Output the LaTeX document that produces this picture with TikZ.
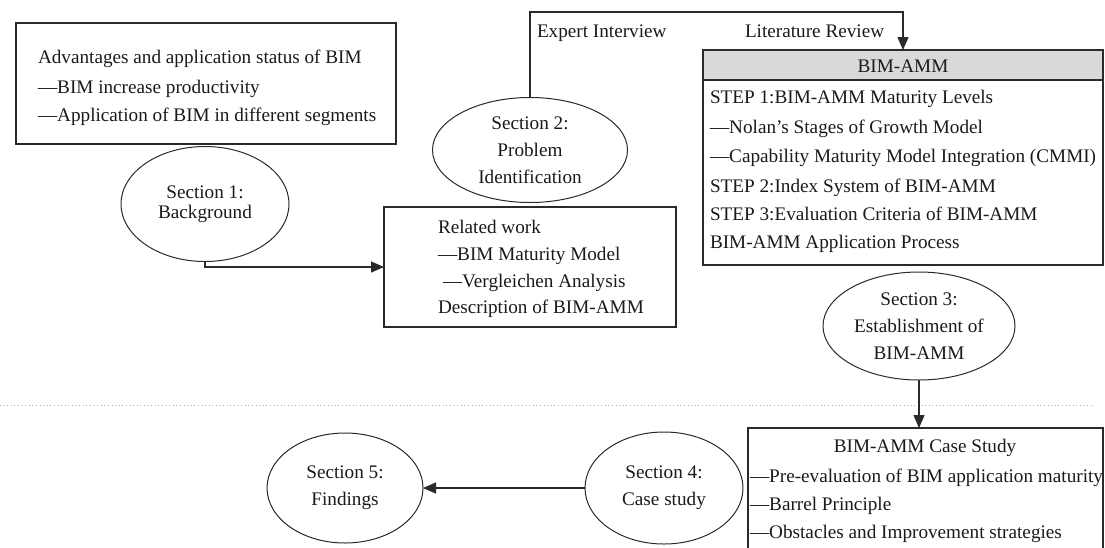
\documentclass[tikz,border=0pt]{standalone}
\usepackage{fontspec}
\setmainfont{Liberation Serif}
\usetikzlibrary{shapes.geometric,arrows.meta}
\definecolor{ink}{HTML}{1A1A1A}
\definecolor{linec}{HTML}{2A2A2A}
\definecolor{headgray}{HTML}{D9D9D9}
\definecolor{dotc}{HTML}{B0B0B0}
\begin{document}
\begin{tikzpicture}[x=1pt,y=-1pt,
  every node/.style={font=\fontsize{19.2}{27}\selectfont, text=ink, inner sep=0pt, outer sep=0pt},
  box/.style={draw=linec, line width=1.2pt, anchor=north west},
  sec/.style={ellipse, draw=linec, line width=1pt, align=center},
  txt/.style={anchor=base west},
  ctxt/.style={anchor=base},
  conn/.style={draw=linec, line width=1.4pt},
  arr/.style={conn, -{Triangle[length=13pt,width=11pt]}}
]
\useasboundingbox (0,0) rectangle (1105,547);

% dotted separator
\draw[dotc, line width=1pt, dash pattern=on 1pt off 2.6pt] (0,405) -- (1093,405);

% box 1
\node[box, minimum width=380pt, minimum height=121pt] (bg) at (16,23) {};
\node[txt] (bga) at (38,63) {Advantages and application status of BIM};
\node[txt] (bgb) at (38,93) {—BIM increase productivity};
\node[txt] (bgc) at (38,121) {—Application of BIM in different segments};

% related work box
\node[box, minimum width=292pt, minimum height=120pt] (rw) at (384,207) {};
\node[txt] (rwa) at (438,233) {Related work};
\node[txt] (rwb) at (438,260) {—BIM Maturity Model};
\node[txt] (rwc) at (443,287) {—Vergleichen Analysis};
\node[txt] (rwd) at (438,313) {Description of BIM-AMM};

% BIM-AMM box
\node[box, minimum width=400pt, minimum height=215pt] (bim) at (703,50) {};
\node[box, fill=headgray, minimum width=400pt, minimum height=30pt] (bimh) at (703,50) {};
\node[ctxt] (bimt) at (903,72) {BIM-AMM};
\node[txt] (bima) at (710,103) {STEP 1:BIM-AMM Maturity Levels};
\node[txt] (bimb) at (710,133) {—Nolan’s Stages of Growth Model};
\node[txt] (bimc) at (710,162) {—Capability Maturity Model Integration (CMMI)};
\node[txt] (bimd) at (710,192) {STEP 2:Index System of BIM-AMM};
\node[txt] (bime) at (710,220) {STEP 3:Evaluation Criteria of BIM-AMM};
\node[txt] (bimf) at (710,248) {BIM-AMM Application Process};

% case study box
\node[box, minimum width=355pt, minimum height=140pt] (cs) at (748,428) {};
\node[ctxt] (cst) at (925,452) {BIM-AMM Case Study};
\node[txt] (csa) at (750,482) {—Pre-evaluation of BIM application maturity};
\node[txt] (csb) at (750,510) {—Barrel Principle};
\node[txt] (csc) at (750,538) {—Obstacles and Improvement strategies};

% ellipses
\node[sec, minimum width=168pt, minimum height=115pt, font=\fontsize{19.2}{20}\selectfont] (s1) at (205,204) {Section 1:\\Background};
\node[sec, minimum width=195pt, minimum height=105pt] (s2) at (530,150) {Section 2:\\Problem\\Identification};
\node[sec, minimum width=192pt, minimum height=108pt] (s3) at (919,326) {Section 3:\\Establishment of\\BIM-AMM};
\node[sec, minimum width=158pt, minimum height=112pt] (s4) at (664,488) {Section 4:\\Case study};
\node[sec, minimum width=156pt, minimum height=110pt] (s5) at (345,488) {Section 5:\\Findings};

% connector labels
\node[txt] (lexp) at (537,37) {Expert Interview};
\node[txt] (llit) at (745,37) {Literature Review};

% connectors
\coordinate (topy) at (0,12);
\draw[arr] (s1.south) |- (rw.west);
\draw[arr] (s2.north) |- (topy -| bim.north) -- (bim.north);
\draw[arr] (s3.south) -- (s3.south |- cs.north);
\draw[arr] (s4.west) -- (s5.east);
\end{tikzpicture}
\end{document}
